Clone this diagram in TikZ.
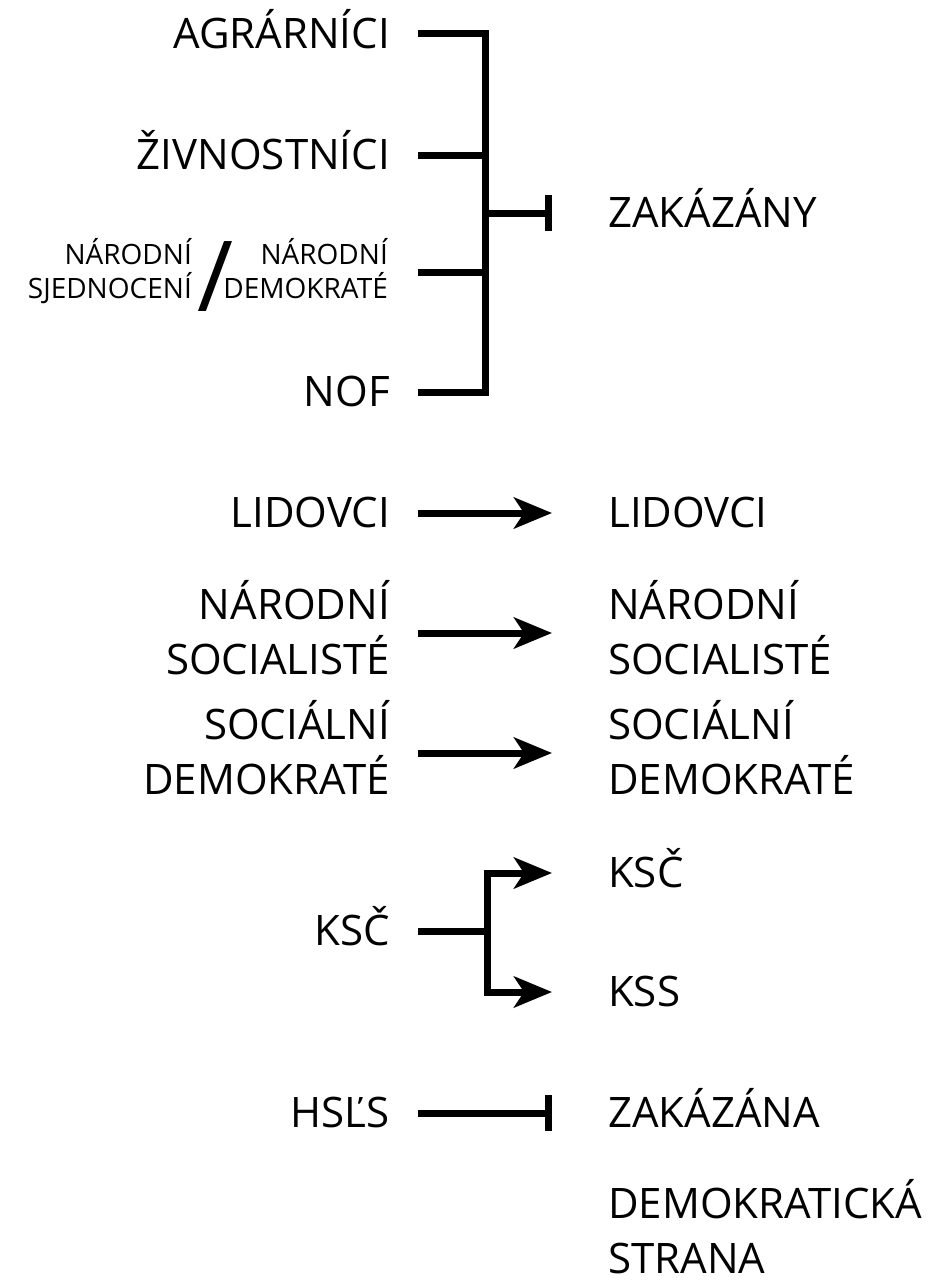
\documentclass[tikz,border=0pt]{standalone}
\usepackage{fontspec}
\setmainfont{Open Sans}
\usetikzlibrary{arrows.meta}

\begin{document}
\begin{tikzpicture}[
    x=1pt, y=-1pt,
    every node/.style={inner sep=0pt, font=\fontsize{42}{55}\selectfont},
    party/.style={anchor=base east, align=right},
    result/.style={anchor=base west, align=left},
    minor/.style={anchor=base east, align=right, font=\fontsize{28}{34}\selectfont},
    link/.style={line width=7pt},
    arrow/.style={link, -{Stealth[length=38pt, width=31pt, inset=10pt]}},
    ban/.style={link, -{Bar[width=36pt]}}
]
\useasboundingbox (0,0) rectangle (932,1283);

% Parties on the left
\node[party] (agr) at (390,48) {AGRÁRNÍCI};
\node[party] (ziv) at (390,169) {ŽIVNOSTNÍCI};
\node[minor] (nsjed) at (192,298) {NÁRODNÍ\\SJEDNOCENÍ};
\node[minor] (ndem) at (388,298) {NÁRODNÍ\\DEMOKRATÉ};
\node[font=\fontsize{98}{98}\selectfont] (slash) at (215,277) {/};
\node[party] (nof) at (390,406) {NOF};
\node[party] (lidL) at (390,527) {LIDOVCI};
\node[party] (nsocL) at (390,674) {NÁRODNÍ\\SOCIALISTÉ};
\node[party] (sdemL) at (390,794) {SOCIÁLNÍ\\DEMOKRATÉ};
\node[party] (kscL) at (390,945) {KSČ};
\node[party] (hsls) at (390,1127) {HSĽS};

% Results on the right
\node[result] (zakazany) at (608,227) {ZAKÁZÁNY};
\node[result] (lidR) at (608,527) {LIDOVCI};
\node[result] (nsocR) at (608,674) {NÁRODNÍ\\SOCIALISTÉ};
\node[result] (sdemR) at (608,794) {SOCIÁLNÍ\\DEMOKRATÉ};
\node[result] (kscR) at (608,887) {KSČ};
\node[result] (kss) at (608,1006) {KSS};
\node[result] (zakazana) at (608,1127) {ZAKÁZÁNA};
\node[result] (dstrana) at (608,1273) {DEMOKRATICKÁ\\STRANA};

% Line ends
\coordinate (agrA) at (418,33);
\coordinate (zivA) at (418,155);
\coordinate (ndemA) at (418,272);
\coordinate (nofA) at (418,392);
\coordinate (spineTop) at (485,33);
\coordinate (spineBot) at (485,392);
\coordinate (zakazanyB) at (552,213);
\coordinate (lidA) at (418,513);
\coordinate (lidB) at (552,513);
\coordinate (nsocA) at (418,633);
\coordinate (nsocB) at (552,633);
\coordinate (sdemA) at (418,753);
\coordinate (sdemB) at (552,753);
\coordinate (kscA) at (418,931);
\coordinate (kscSplit) at (487,931);
\coordinate (kscB) at (552,873);
\coordinate (kssB) at (552,992);
\coordinate (hslsA) at (418,1113);
\coordinate (hslsB) at (552,1113);

% Banned parties
\draw[link] (agrA) -- (spineTop) -- (spineBot) -- (nofA);
\draw[link] (zivA) -- (zivA -| spineTop);
\draw[link] (ndemA) -- (ndemA -| spineTop);
\draw[ban] (zakazanyB -| spineTop) -- (zakazanyB);

% Continuing parties
\draw[arrow] (lidA) -- (lidB);
\draw[arrow] (nsocA) -- (nsocB);
\draw[arrow] (sdemA) -- (sdemB);

% KSC split
\draw[link] (kscA) -- (kscSplit);
\draw[arrow] (kscSplit) |- (kscB);
\draw[arrow] (kscSplit) |- (kssB);

% HSLS
\draw[ban] (hslsA) -- (hslsB);

\end{tikzpicture}
\end{document}
